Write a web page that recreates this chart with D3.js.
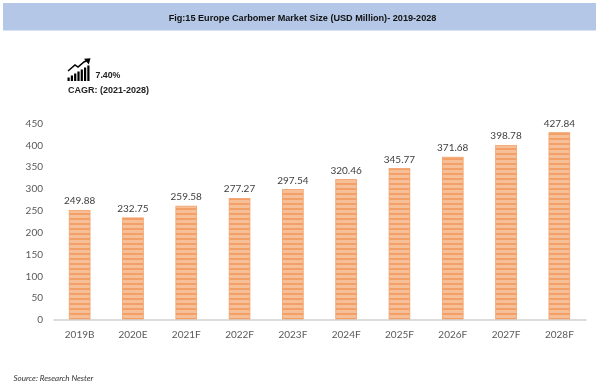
<!DOCTYPE html>
<html>
<head>
<meta charset="utf-8">
<script src="https://cdnjs.cloudflare.com/ajax/libs/d3/7.8.5/d3.min.js"></script>
<style>
    html, body { margin: 0; padding: 0; background: #fff; }
    svg { display: block; filter: blur(0.3px); }
    .tick line { display: none; }
    .yAxis .domain { display: none; }
</style>
</head>
<body>
<svg id="chart" width="600" height="389"></svg>
<script>
const years = ["2019B", "2020E", "2021F", "2022F", "2023F", "2024F", "2025F", "2026F", "2027F", "2028F"];
const marketSize = [249.88, 232.75, 259.58, 277.27, 297.54, 320.46, 345.77, 371.68, 398.78, 427.84];
const yTicks = [0, 50, 100, 150, 200, 250, 300, 350, 400, 450];
const iconBars = [0, 1, 2, 3, 4, 5, 6];

const svg = d3.select("#chart");
const margin = {top: 123, right: 14, bottom: 69.5, left: 53};
const width = 600 - margin.left - margin.right;
const height = 389 - margin.top - margin.bottom;

// striped bar fill
const defs = svg.append("defs");
const stripes = defs.append("pattern")
    .attr("id", "stripes")
    .attr("patternUnits", "userSpaceOnUse")
    .attr("width", 6)
    .attr("height", 5);
stripes.append("rect").attr("width", 6).attr("height", 5).attr("fill", "#f3a068");
stripes.append("rect").attr("y", 2).attr("width", 6).attr("height", 3).attr("fill", "#f7bf98");

// title band
svg.append("rect")
    .attr("x", 3).attr("y", 3)
    .attr("width", 593).attr("height", 27.5)
    .attr("fill", "#b4c7e7");
svg.append("text")
    .attr("x", 302.5).attr("y", 20.5)
    .attr("text-anchor", "middle")
    .attr("font-family", "Liberation Sans")
    .attr("font-weight", "bold")
    .attr("font-size", 9.15)
    .attr("fill", "#111")
    .text("Fig:15 Europe Carbomer Market Size (USD Million)- 2019-2028");

// CAGR icon
const icon = svg.append("g").attr("fill", "#000");
icon.selectAll("rect")
    .data(iconBars)
    .enter()
    .append("rect")
    .attr("x", (d) => 67.5 + d * 3.3)
    .attr("y", (d) => 77.5 - d * 2)
    .attr("width", 2.2)
    .attr("height", (d) => 3.5 + d * 2);
svg.append("path")
    .attr("d", "M68 71 L75 65 L78 67 L84 62 L87 60.5")
    .attr("fill", "none")
    .attr("stroke", "#000")
    .attr("stroke-width", 1.5);
svg.append("path")
    .attr("d", "M84 58.8 L90.5 58.2 L88.8 64.5 Z")
    .attr("fill", "#000");

svg.append("text")
    .attr("x", 95.5).attr("y", 78)
    .attr("font-family", "Liberation Sans")
    .attr("font-weight", "bold")
    .attr("font-size", 8.8)
    .attr("fill", "#222")
    .text("7.40%");
svg.append("text")
    .attr("x", 68).attr("y", 92.5)
    .attr("font-family", "Liberation Sans")
    .attr("font-weight", "bold")
    .attr("font-size", 9)
    .attr("fill", "#222")
    .text("CAGR: (2021-2028)");

const main = svg.append("g")
    .attr("transform", "translate(" + margin.left + "," + margin.top + ")");

const xAxis = d3.scaleBand().range([0, width]).domain(years).paddingInner(0.61).paddingOuter(0.305);
const yAxis = d3.scaleLinear().range([height, 0]).domain([0, 450]);

main.selectAll(".bar_rect")
    .data(marketSize)
    .enter()
    .append("rect")
    .attr("class", "bar_rect")
    .attr("x", (d, i) => xAxis(years[i]))
    .attr("y", (d) => yAxis(d))
    .attr("width", xAxis.bandwidth())
    .attr("height", (d) => height - yAxis(d))
    .attr("fill", "url(#stripes)")
    .attr("stroke", "#f3a068")
    .attr("stroke-width", 0.8);

main.selectAll(".bar_label")
    .data(marketSize)
    .enter()
    .append("text")
    .attr("class", "bar_label")
    .attr("x", (d, i) => xAxis(years[i]) + xAxis.bandwidth() / 2)
    .attr("y", (d) => yAxis(d) - 6)
    .attr("text-anchor", "middle")
    .attr("font-family", "Lato")
    .attr("font-size", 10)
    .attr("fill", "#404040")
    .text((d) => d.toFixed(2));

const gx = main.append("g")
    .attr("class", "axis xAxis")
    .attr("transform", "translate(0," + height + ")")
    .call(d3.axisBottom(xAxis).tickSize(0).tickPadding(11));
gx.select(".domain").attr("stroke", "#d0d0d0").attr("stroke-width", 1.5);
gx.selectAll("text")
    .attr("font-family", "Lato")
    .attr("font-size", 10)
    .attr("fill", "#595959");

const gy = main.append("g")
    .attr("class", "axis yAxis")
    .call(d3.axisLeft(yAxis).tickValues(yTicks).tickSize(0).tickPadding(10));
gy.selectAll("text")
    .attr("font-family", "Lato")
    .attr("font-size", 10)
    .attr("fill", "#595959");

svg.append("text")
    .attr("x", 13.5).attr("y", 381)
    .attr("font-family", "Lato")
    .attr("font-style", "italic")
    .attr("font-size", 8)
    .attr("fill", "#333")
    .text("Source: Research Nester");
</script>
</body>
</html>
